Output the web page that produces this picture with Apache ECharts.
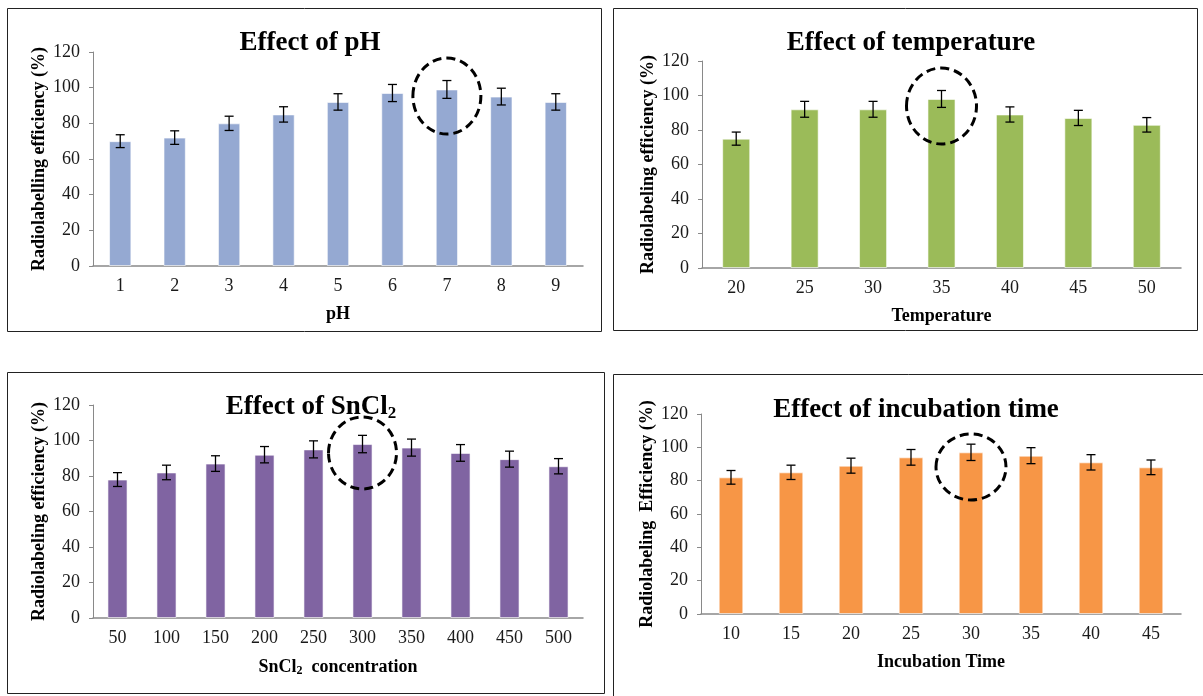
<!DOCTYPE html>
<html>
<head>
<meta charset="utf-8">
<script src="https://cdn.jsdelivr.net/npm/echarts@6/dist/echarts.min.js"></script>
<style>html,body{margin:0;padding:0;background:#fff;}#c{width:1203px;height:696px;}</style>
</head>
<body>
<div id="c"></div>
<script>
// ---- data ----
var phCats = ['1','2','3','4','5','6','7','8','9'];
var phVals = [70, 72, 80, 85, 92, 97, 99, 95, 92];
var phErrs = [3.6, 3.8, 4.0, 4.3, 4.6, 4.8, 5.0, 4.7, 4.6];

var tempCats = ['20','25','30','35','40','45','50'];
var tempVals = [75, 92, 92, 98, 89, 87, 83];
var tempErrs = [3.8, 4.6, 4.6, 4.9, 4.4, 4.4, 4.2];

var snCats = ['50','100','150','200','250','300','350','400','450','500'];
var snVals = [78, 82, 87, 92, 95, 98, 96, 93, 89.5, 85.5];
var snErrs = [3.9, 4.1, 4.4, 4.6, 4.8, 4.9, 4.8, 4.7, 4.5, 4.3];

var incCats = ['10','15','20','25','30','35','40','45'];
var incVals = [82, 85, 89, 94, 97, 95, 91, 88];
var incErrs = [4.1, 4.3, 4.5, 4.7, 4.9, 4.8, 4.6, 4.4];

var yTicks = [0, 20, 40, 60, 80, 100, 120];

// highlighted (circled) category index and ellipse centre value for each panel
var highlightIdx = [6, 3, 5, 4];
var highlightCenter = [95.3, 93.9, 93.0, 88.2];

var titles = ['Effect of pH', 'Effect of temperature', 'Effect of SnCl{sub|2}', 'Effect of incubation time'];
var xNames = ['pH', 'Temperature', 'SnCl{sub|2}  concentration', 'Incubation Time'];
var yNames = ['Radiolabelling efficiency (%)', 'Radiolabeling efficiency (%)', 'Radiolabeling efficiency (%)', 'Radiolabeling  Efficiency (%)'];
var colors = ['#95A9D2', '#9BBB59', '#8064A2', '#F79646'];

// ---- layout ----
var FONT = 'Liberation Serif';
var grids = [
  {left: 93, top: 52, width: 490, height: 214},
  {left: 702, top: 61, width: 479, height: 207},
  {left: 93, top: 405, width: 490, height: 213},
  {left: 701, top: 414, width: 480, height: 200}
];
var titlePos = [
  {x: 305, y: 38}, {x: 906, y: 38}, {x: 306, y: 402}, {x: 911, y: 405}
];
var panels = [
  {x: 7, y: 8, w: 594, h: 323},
  {x: 613, y: 8, w: 584, h: 322},
  {x: 7, y: 372, w: 597, h: 321},
  {x: 613, y: 374, w: 600, h: 330}
];
var ellR = [[34, 38], [35, 38], [34, 36], [35, 33]];

var allCats = [phCats, tempCats, snCats, incCats];
var allVals = [phVals, tempVals, snVals, incVals];
var allErrs = [phErrs, tempErrs, snErrs, incErrs];

var option = {
  animation: false,
  backgroundColor: '#fff',
  title: [], grid: [], xAxis: [], yAxis: [], series: [],
  graphic: []
};

panels.forEach(function (p) {
  option.graphic.push({type: 'rect', shape: {x: p.x + 0.5, y: p.y + 0.5, width: p.w, height: p.h},
    style: {fill: 'none', stroke: '#222', lineWidth: 1}, silent: true, z: 0});
});

for (var i = 0; i < 4; i++) {
  var g = grids[i];
  option.grid.push({left: g.left, top: g.top, width: g.width, height: g.height, containLabel: false});
  option.title.push({
    text: titles[i], left: titlePos[i].x, top: titlePos[i].y, textAlign: 'center', textVerticalAlign: 'middle',
    textStyle: {fontFamily: FONT, fontWeight: 'bold', fontSize: 27, color: '#000',
      rich: {sub: {fontSize: 17, fontFamily: FONT, fontWeight: 'bold', color: '#000', padding: [14, 0, 0, 0]}}}
  });
  option.xAxis.push({
    type: 'category', gridIndex: i, data: allCats[i],
    name: xNames[i], nameLocation: 'middle', nameGap: 39,
    nameTextStyle: {fontFamily: FONT, fontWeight: 'bold', fontSize: 18, color: '#000', rich: {sub: {fontSize: 12, fontFamily: FONT, fontWeight: 'bold', color: '#000', padding: [8, 0, 0, 0]}}},
    axisLine: {show: true, lineStyle: {color: '#898989', width: 1.5}},
    axisTick: {show: false},
    axisLabel: {fontFamily: FONT, fontSize: 18, color: '#1a1a1a', margin: 11},
    splitLine: {show: false}
  });
  option.yAxis.push({
    type: 'value', gridIndex: i, min: 0, max: 120, interval: 20,
    name: yNames[i], nameLocation: 'middle', nameGap: 45, nameRotate: 90,
    nameTextStyle: {fontFamily: FONT, fontWeight: 'bold', fontSize: 18, color: '#000'},
    axisLine: {show: true, lineStyle: {color: '#898989', width: 1}},
    axisTick: {show: true, inside: false, length: 4, lineStyle: {color: '#898989'}},
    axisLabel: {fontFamily: FONT, fontSize: 18, color: '#1a1a1a', margin: 13},
    splitLine: {show: false}
  });
  option.series.push({
    type: 'bar', xAxisIndex: i, yAxisIndex: i, data: allVals[i],
    barCategoryGap: '59%',
    itemStyle: {color: colors[i], borderColor: 'rgba(255,255,255,0.6)', borderWidth: 1},
    z: 2
  });
  var errData = allVals[i].map(function (v, k) { return [k, v, allErrs[i][k]]; });
  option.series.push({
    type: 'custom', xAxisIndex: i, yAxisIndex: i, data: errData, z: 5,
    renderItem: function (params, api) {
      var x = api.value(0), v = api.value(1), e = api.value(2);
      var t = api.coord([x, v + e]), b = api.coord([x, v - e]);
      var hw = 4.5;
      var st = {stroke: '#000', lineWidth: 1.3};
      return {type: 'group', children: [
        {type: 'line', shape: {x1: t[0], y1: t[1], x2: b[0], y2: b[1]}, style: st},
        {type: 'line', shape: {x1: t[0] - hw, y1: t[1], x2: t[0] + hw, y2: t[1]}, style: st},
        {type: 'line', shape: {x1: b[0] - hw, y1: b[1], x2: b[0] + hw, y2: b[1]}, style: st}
      ]};
    }
  });
  (function (idx) {
    option.series.push({
      type: 'custom', xAxisIndex: idx, yAxisIndex: idx, data: [[highlightIdx[idx], highlightCenter[idx]]], z: 6,
      renderItem: function (params, api) {
        var c = api.coord([api.value(0), api.value(1)]);
        return {type: 'ellipse', shape: {cx: c[0], cy: c[1], rx: ellR[idx][0], ry: ellR[idx][1]},
          style: {fill: 'none', stroke: '#000', lineWidth: 3, lineDash: [9, 5]}};
      }
    });
  })(i);
}

var chart = echarts.init(document.getElementById('c'), null, {renderer: 'canvas'});
chart.setOption(option);
</script>
</body>
</html>
